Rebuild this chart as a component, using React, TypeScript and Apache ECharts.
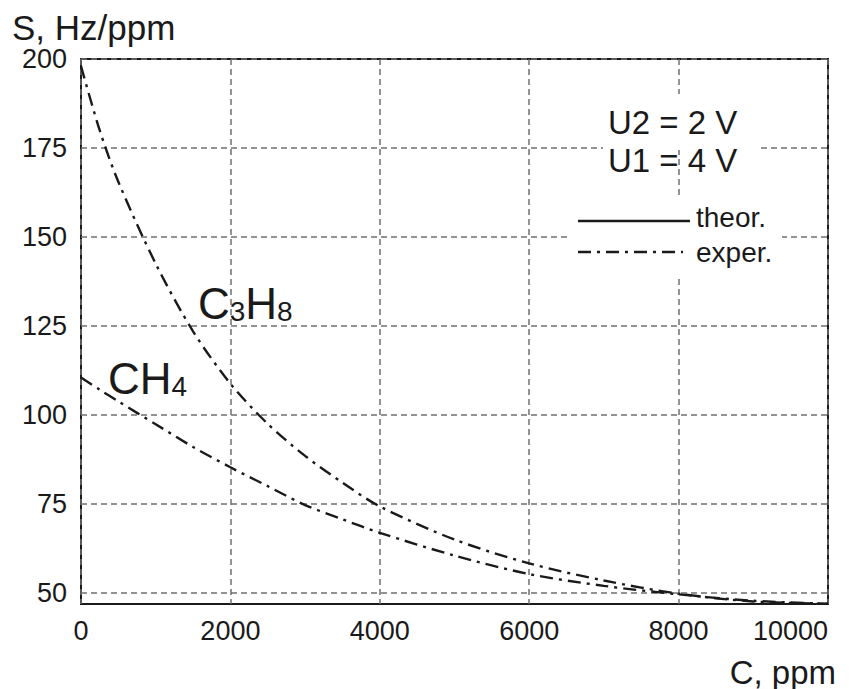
import React, { useEffect, useRef } from 'react';
import * as echarts from 'echarts';

// ---- data ----
const concentration = [0, 250, 500, 1000, 1500, 2000, 2500, 3000, 3500, 4000, 5000, 6000, 7000, 8000, 9000, 10000];
const c3h8Exper = [198, 180, 165.5, 142.5, 123.5, 108.8, 97.5, 88.5, 81, 74.3, 65, 58.3, 53.5, 49.8, 47.6, 47];
const ch4Exper = [110.5, 107.1, 103.8, 97.4, 91, 85.3, 80, 74.7, 70.7, 66.9, 60.5, 55.3, 52, 49.6, 47.8, 47];
const xTicks = [0, 2000, 4000, 6000, 8000, 10000];
const yTicks = [50, 75, 100, 125, 150, 175, 200];
const yAxisTitle = 'S, Hz/ppm';
const xAxisTitle = 'C, ppm';
const conditions = ['U2 = 2 V', 'U1 = 4 V'];
const legendNames = ['theor.', 'exper.'];

const FONT = '"Liberation Sans", Arial, Helvetica, sans-serif';
const INK = '#1a1a1a';
const DASHDOT = [13, 6, 3, 6];

export default function App() {
  const ref = useRef<HTMLDivElement>(null);

  useEffect(() => {
    if (!ref.current) return;
    const chart = echarts.init(ref.current, undefined, { renderer: 'svg' });
    const toPairs = (ys: number[]) => concentration.map((c, i) => [c, ys[i]]);
    const gridLine = { show: true, lineStyle: { type: [6, 4], color: '#707070', width: 1.5 } };

    chart.setOption({
      animation: false,
      backgroundColor: '#ffffff',
      grid: {
        left: 81,
        top: 59,
        right: 21,
        bottom: 85,
        show: true,
        borderColor: INK,
        borderWidth: 2,
        containLabel: false,
      },
      xAxis: {
        type: 'value',
        min: 0,
        max: 10000,
        interval: 2000,
        axisLine: { show: false },
        axisTick: { show: false, customValues: xTicks },
        splitLine: gridLine,
        axisLabel: {
          customValues: xTicks,
          formatter: (v: number) => String(v),
          fontSize: 27,
          fontFamily: FONT,
          color: INK,
          margin: 13,
          alignMaxLabel: 'right',
        },
      },
      yAxis: {
        type: 'value',
        min: 46.9,
        max: 200,
        axisLine: { show: false },
        axisTick: { show: false, customValues: yTicks },
        splitLine: gridLine,
        axisLabel: {
          customValues: yTicks,
          formatter: (v: number) => String(v),
          fontSize: 27,
          fontFamily: FONT,
          color: INK,
          margin: 14,
        },
      },
      series: [
        {
          name: 'C3H8',
          type: 'line',
          data: toPairs(c3h8Exper),
          smooth: 0.3,
          showSymbol: false,
          lineStyle: { color: INK, width: 2.4, type: DASHDOT },
        },
        {
          name: 'CH4',
          type: 'line',
          data: toPairs(ch4Exper),
          smooth: 0.3,
          showSymbol: false,
          lineStyle: { color: INK, width: 2.4, type: DASHDOT },
        },
      ],
      graphic: [
        { type: 'rect', z: 100, shape: { x: 603, y: 94, width: 154, height: 56 }, style: { fill: '#ffffff' } },
        { type: 'rect', z: 100, shape: { x: 567, y: 197, width: 215, height: 80 }, style: { fill: '#ffffff' } },
        { type: 'text', z: 101, x: 608, y: 122, style: { text: conditions[0], fontSize: 33, fontFamily: FONT, fill: INK, align: 'left', verticalAlign: 'middle' } },
        { type: 'text', z: 101, x: 608, y: 160, style: { text: conditions[1], fontSize: 33, fontFamily: FONT, fill: INK, align: 'left', verticalAlign: 'middle' } },
        { type: 'line', z: 101, shape: { x1: 578, y1: 221, x2: 690, y2: 221 }, style: { stroke: INK, lineWidth: 2.4 } },
        { type: 'line', z: 101, shape: { x1: 578, y1: 252, x2: 683, y2: 252 }, style: { stroke: INK, lineWidth: 2.4, lineDash: DASHDOT } },
        { type: 'text', z: 101, x: 696, y: 217, style: { text: legendNames[0], fontSize: 28, fontFamily: FONT, fill: INK, align: 'left', verticalAlign: 'middle' } },
        { type: 'text', z: 101, x: 696, y: 252, style: { text: legendNames[1], fontSize: 28, fontFamily: FONT, fill: INK, align: 'left', verticalAlign: 'middle' } },
        { type: 'text', z: 101, x: 12, y: 27, style: { text: yAxisTitle, fontSize: 35, fontFamily: FONT, fill: INK, align: 'left', verticalAlign: 'middle' } },
        { type: 'text', z: 101, x: 836, y: 672, style: { text: xAxisTitle, fontSize: 33, fontFamily: FONT, fill: INK, align: 'right', verticalAlign: 'middle' } },
        {
          type: 'text', z: 101, x: 198, y: 300,
          style: {
            text: '{a|C}{b|3}{a|H}{b|8}',
            fontFamily: FONT, fill: INK, align: 'left', verticalAlign: 'middle',
            rich: {
              a: { fontSize: 44, fontFamily: FONT, fill: INK, lineHeight: 50, verticalAlign: 'bottom' },
              b: { fontSize: 28, fontFamily: FONT, fill: INK, lineHeight: 50, verticalAlign: 'bottom' },
            },
          },
        },
        {
          type: 'text', z: 101, x: 108, y: 375,
          style: {
            text: '{a|CH}{b|4}',
            fontFamily: FONT, fill: INK, align: 'left', verticalAlign: 'middle',
            rich: {
              a: { fontSize: 44, fontFamily: FONT, fill: INK, lineHeight: 50, verticalAlign: 'bottom' },
              b: { fontSize: 28, fontFamily: FONT, fill: INK, lineHeight: 50, verticalAlign: 'bottom' },
            },
          },
        },
      ],
    });
    return () => chart.dispose();
  }, []);

  return <div ref={ref} style={{ position: 'absolute', left: 0, top: 0, width: 849, height: 689, background: '#fff' }} />;
}
